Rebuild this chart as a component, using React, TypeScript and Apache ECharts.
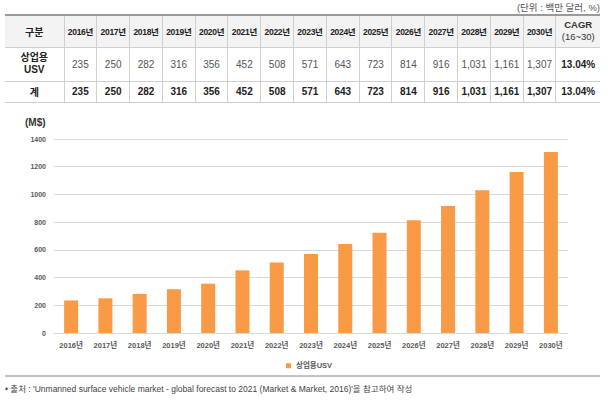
import React, { useEffect, useRef } from "react";
import * as echarts from "echarts";

const years = ["2016년","2017년","2018년","2019년","2020년","2021년","2022년","2023년","2024년","2025년","2026년","2027년","2028년","2029년","2030년"];
const values = [235,250,282,316,356,452,508,571,643,723,814,916,1031,1161,1307];
const valueLabels = ["235","250","282","316","356","452","508","571","643","723","814","916","1,031","1,161","1,307"];
const cagr = "13.04%";
const seriesName = "상업용USV";
const yTicks = { min: 0, max: 1400, interval: 200 };

const FONT = "'Liberation Sans', 'Noto Sans CJK KR', sans-serif";

export default function App() {
  const ref = useRef<HTMLDivElement>(null);
  useEffect(() => {
    if (!ref.current) return;
    const chart = echarts.init(ref.current, undefined, { renderer: "svg" });
    chart.setOption({
      animation: false,
      textStyle: { fontFamily: FONT },
      grid: { left: 54, right: 40, top: 139, bottom: 71, containLabel: false },
      xAxis: {
        type: "category",
        data: years,
        axisLine: { lineStyle: { color: "#d9d9d9" } },
        axisTick: { show: false },
        axisLabel: { fontSize: 7.5, fontWeight: "bold", color: "#595959", margin: 9, interval: 0 },
      },
      yAxis: {
        type: "value",
        min: yTicks.min,
        max: yTicks.max,
        interval: yTicks.interval,
        axisLine: { show: false },
        axisTick: { show: false },
        splitLine: { lineStyle: { color: "#d9d9d9" } },
        axisLabel: {
          fontSize: 7,
          fontWeight: "bold",
          color: "#595959",
          margin: 8,
          formatter: (v: number) => String(v),
        },
      },
      legend: {
        data: [seriesName],
        left: 281,
        top: 357,
        icon: "rect",
        itemWidth: 5,
        itemHeight: 5,
        itemGap: 4,
        textStyle: { fontSize: 7.5, fontWeight: "bold", color: "#595959", fontFamily: FONT },
      },
      series: [
        {
          name: seriesName,
          type: "bar",
          data: values,
          barWidth: 14,
          itemStyle: { color: "#F99A46" },
        },
      ],
      graphic: [
        {
          type: "text",
          left: 25,
          top: 117,
          style: { text: "(M$)", fontSize: 10, fontWeight: "bold", fill: "#333", fontFamily: FONT },
        },
        {
          type: "line",
          shape: { x1: 5, y1: 376, x2: 600, y2: 376 },
          style: { stroke: "#b0b0b0", lineWidth: 1.5 },
        },
        {
          type: "text",
          left: 5,
          top: 385,
          style: {
            text: "• 출처 : 'Unmanned surface vehicle market - global forecast to 2021 (Market & Market, 2016)'을 참고하여 작성",
            fontSize: 8.5,
            fill: "#444",
            fontFamily: FONT,
          },
        },
      ],
    });
    return () => chart.dispose();
  }, []);

  const cell: React.CSSProperties = {
    border: "1px solid #cfcfcf",
    borderTop: "none",
    padding: 0,
    textAlign: "center",
    verticalAlign: "middle",
    fontFamily: FONT,
    whiteSpace: "nowrap",
  };
  const head: React.CSSProperties = { ...cell, background: "#f3f3f3", fontWeight: "bold", fontSize: 8.5, color: "#222", letterSpacing: -0.3 };
  const dataCell: React.CSSProperties = { ...cell, fontSize: 10, color: "#555" };
  const boldCell: React.CSSProperties = { ...cell, fontSize: 10, fontWeight: "bold", color: "#222" };

  return (
    <div style={{ position: "fixed", left: 0, top: 0, width: 608, height: 404, background: "#fff" }}>
      <div ref={ref} style={{ position: "absolute", left: 0, top: 0, width: 608, height: 404 }} />
      <div
        style={{
          position: "absolute",
          right: 8,
          top: 2,
          fontSize: 9.5,
          color: "#555",
          fontFamily: FONT,
          lineHeight: "11px",
        }}
      >
        (단위 : 백만 달러, %)
      </div>
      <table
        style={{
          position: "absolute",
          left: 5,
          top: 14,
          width: 595,
          borderCollapse: "collapse",
          tableLayout: "fixed",
          borderTop: "2px solid #9a9a9a",
          borderBottom: "1px solid #a0a0a0",
          borderLeft: "hidden",
          borderRight: "hidden",
        }}
      >
        <colgroup>
          <col style={{ width: 59 }} />
          {years.map((y) => (
            <col key={y} style={{ width: 32.8 }} />
          ))}
          <col style={{ width: 44 }} />
        </colgroup>
        <tbody>
          <tr style={{ height: 32 }}>
            <td style={{ ...head, fontSize: 10, letterSpacing: 0, borderLeft: "none" }}>구분</td>
            {years.map((y) => (
              <td key={y} style={head}>{y}</td>
            ))}
            <td style={{ ...head, fontWeight: "normal", fontSize: 9.5, letterSpacing: 0, color: "#333", lineHeight: "12px", borderRight: "none" }}>
              <span style={{ fontWeight: 600 }}>CAGR</span>
              <br />
              (16~30)
            </td>
          </tr>
          <tr style={{ height: 34 }}>
            <td style={{ ...boldCell, lineHeight: "12px", borderLeft: "none" }}>
              상업용
              <br />
              USV
            </td>
            {valueLabels.map((v, i) => (
              <td key={i} style={dataCell}>{v}</td>
            ))}
            <td style={{ ...boldCell, borderRight: "none" }}>{cagr}</td>
          </tr>
          <tr style={{ height: 21 }}>
            <td style={{ ...boldCell, borderLeft: "none" }}>계</td>
            {valueLabels.map((v, i) => (
              <td key={i} style={boldCell}>{v}</td>
            ))}
            <td style={{ ...boldCell, borderRight: "none" }}>{cagr}</td>
          </tr>
        </tbody>
      </table>
    </div>
  );
}
